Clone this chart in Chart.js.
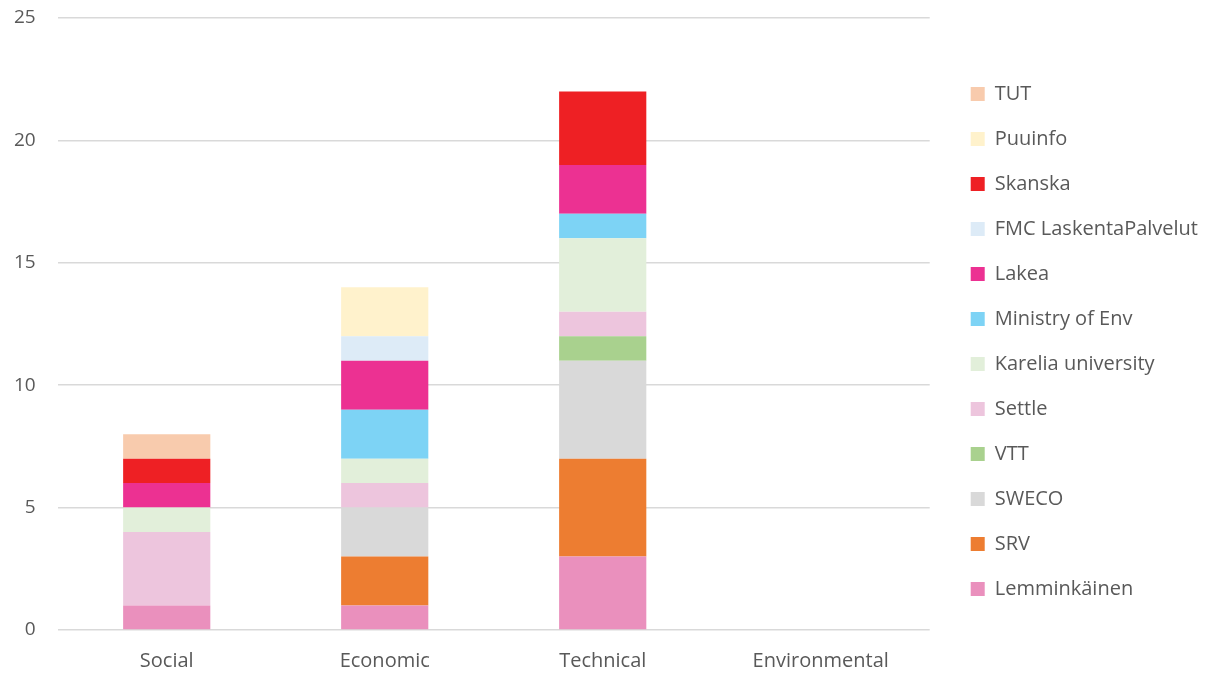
<!DOCTYPE html>
<html>
<head>
<meta charset="utf-8">
<script src="https://cdn.jsdelivr.net/npm/chart.js@4.4.1/dist/chart.umd.min.js"></script>
<style>
  html, body { margin: 0; padding: 0; background: #fff; }
  #wrap { width: 1214px; height: 673px; }
</style>
</head>
<body>
<div id="wrap"><canvas id="stackChart"></canvas></div>
<script>
const categories = ['Social', 'Economic', 'Technical', 'Environmental'];

// one array per partner, bottom of the stack first
const lemminkainen = [1, 1, 3, 0];
const srv          = [0, 2, 4, 0];
const sweco        = [0, 2, 4, 0];
const vtt          = [0, 0, 1, 0];
const settle       = [3, 1, 1, 0];
const karelia      = [1, 1, 3, 0];
const ministry     = [0, 2, 1, 0];
const lakea        = [1, 2, 2, 0];
const fmc          = [0, 1, 0, 0];
const skanska      = [1, 0, 3, 0];
const puuinfo      = [0, 2, 0, 0];
const tut          = [1, 0, 0, 0];

const yTicks = [0, 5, 10, 15, 20, 25];

const series = [
  { label: 'Lemminkäinen', data: lemminkainen, color: '#EA90BD' },
  { label: 'SRV', data: srv, color: '#ED7D31' },
  { label: 'SWECO', data: sweco, color: '#D9D9D9' },
  { label: 'VTT', data: vtt, color: '#A9D18E' },
  { label: 'Settle', data: settle, color: '#EDC5DD' },
  { label: 'Karelia university', data: karelia, color: '#E2EFDA' },
  { label: 'Ministry of Env', data: ministry, color: '#7DD3F5' },
  { label: 'Lakea', data: lakea, color: '#EC3192' },
  { label: 'FMC LaskentaPalvelut', data: fmc, color: '#DDEBF7' },
  { label: 'Skanska', data: skanska, color: '#EE2024' },
  { label: 'Puuinfo', data: puuinfo, color: '#FFF2CC' },
  { label: 'TUT', data: tut, color: '#F8CBAD' }
];

const textColor = '#595959';
const fontFamily = '"Open Sans", sans-serif';

// nudge the legend a bit away from the plot, like the original
const legendShift = {
  id: 'legendShift',
  afterLayout(chart) {
    const lg = chart.legend;
    lg.left += 16;
    lg.right += 16;
    lg.top -= 4;
    lg.bottom -= 4;
  }
};

const ctx = document.getElementById('stackChart').getContext('2d');
new Chart(ctx, {
  type: 'bar',
  data: {
    labels: categories,
    datasets: series.map(s => ({
      label: s.label,
      data: s.data,
      backgroundColor: s.color,
      borderWidth: 0,
      barPercentage: 0.4,
      categoryPercentage: 1.0
    }))
  },
  options: {
    responsive: true,
    maintainAspectRatio: false,
    animation: false,
    layout: { padding: { top: 18, bottom: 0, left: 14, right: 22 } },
    plugins: {
      tooltip: { enabled: false },
      legend: {
        position: 'right',
        reverse: true,
        labels: {
          boxWidth: 14,
          boxHeight: 14,
          padding: 25,
          color: textColor,
          font: { family: fontFamily, size: 20 }
        }
      }
    },
    scales: {
      x: {
        stacked: true,
        grid: { display: false, drawTicks: true, tickLength: 19 },
        border: { display: false },
        ticks: { color: textColor, padding: 0, font: { family: fontFamily, size: 20 } }
      },
      y: {
        stacked: true,
        min: 0,
        max: 25,
        afterBuildTicks(axis) { axis.ticks = yTicks.map(v => ({ value: v })); },
        grid: { color: '#D9D9D9', lineWidth: 1.5, drawTicks: true, tickLength: 22, tickColor: 'rgba(0,0,0,0)' },
        border: { display: false },
        ticks: { color: textColor, padding: 0, font: { family: fontFamily, size: 19 } }
      }
    }
  },
  plugins: [legendShift]
});
</script>
</body>
</html>
